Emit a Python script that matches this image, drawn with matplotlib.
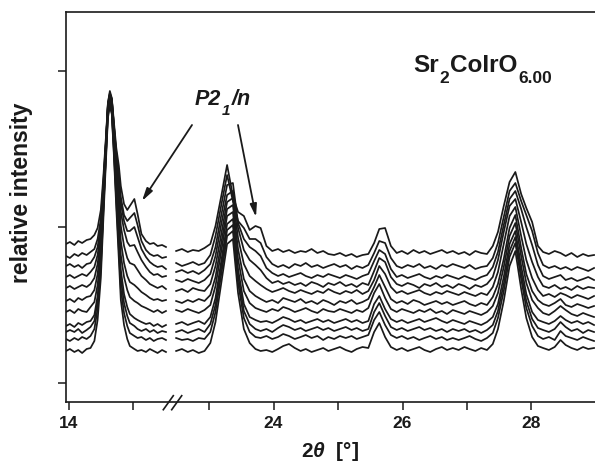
import numpy as np
import matplotlib
matplotlib.use("Agg")
import matplotlib.pyplot as plt

plt.rcParams['font.family'] = ['Liberation Sans', 'DejaVu Sans']
plt.rcParams['mathtext.fontset'] = 'custom'
plt.rcParams['mathtext.rm'] = 'Liberation Sans:bold'
plt.rcParams['mathtext.bf'] = 'Liberation Sans:bold'
plt.rcParams['mathtext.it'] = 'Liberation Sans:italic:bold'
plt.rcParams['mathtext.sf'] = 'Liberation Sans:bold'

# ---------------- data ----------------
two_theta_low = [13.96, 14.02, 14.09, 14.15, 14.21, 14.28, 14.34, 14.40, 14.45, 14.50,
                 14.54, 14.58, 14.61, 14.64, 14.67, 14.70, 14.74, 14.78, 14.81, 14.86,
                 14.91, 14.95, 15.02, 15.07, 15.13, 15.20, 15.26, 15.32, 15.38, 15.45, 15.51]

two_theta_high = [22.49, 22.58, 22.67, 22.75, 22.84, 22.93, 23.02, 23.10, 23.19, 23.28,
                  23.37, 23.45, 23.54, 23.63, 23.72, 23.80, 23.89, 23.98, 24.07, 24.15,
                  24.24, 24.33, 24.42, 24.50, 24.59, 24.68, 24.77, 24.85, 24.94, 25.03,
                  25.12, 25.21, 25.29, 25.38, 25.47, 25.56, 25.64, 25.73, 25.82, 25.91,
                  25.99, 26.08, 26.17, 26.26, 26.34, 26.43, 26.52, 26.61, 26.69, 26.78,
                  26.87, 26.96, 27.04, 27.13, 27.22, 27.31, 27.40, 27.48, 27.57, 27.66,
                  27.75, 27.84, 27.92, 28.01, 28.10, 28.18, 28.27, 28.36, 28.45, 28.53,
                  28.62, 28.71, 28.80, 28.88, 28.97]

offsets = [135, 122, 112, 103, 93, 82, 72, 59, 52, 44, 33]

low_0 = [4, 6, 3, 7, 5, 8, 9, 13, 20, 38, 72, 112, 145, 157, 150, 128, 100, 82, 62, 44, 38, 42, 49, 34, 14, 7, 4, 5, 2, 3, 1]
low_1 = [5, 3, 7, 5, 8, 6, 9, 12, 22, 42, 80, 122, 158, 168, 162, 138, 108, 86, 64, 46, 40, 43, 48, 36, 20, 11, 7, 5, 6, 3, 4]
low_2 = [5, 7, 4, 6, 3, 7, 8, 14, 24, 46, 86, 130, 166, 177, 172, 148, 116, 90, 68, 50, 40, 40, 44, 34, 22, 14, 9, 6, 4, 5, 2]
low_3 = [3, 5, 2, 4, 6, 4, 8, 13, 25, 50, 92, 138, 175, 185, 180, 156, 122, 92, 68, 50, 38, 34, 35, 28, 20, 13, 8, 5, 6, 3, 4]
low_4 = [2, 4, 1, 3, 5, 3, 6, 12, 26, 54, 98, 148, 184, 194, 188, 162, 126, 92, 64, 44, 32, 27, 25, 20, 14, 10, 6, 4, 2, 4, 1]
low_5 = [0, 2, -1, 3, 1, 4, 5, 11, 27, 58, 106, 156, 193, 204, 196, 168, 128, 90, 60, 38, 25, 19, 16, 13, 9, 6, 3, 1, 2, 0, 1]
low_6 = [-1, 1, -2, 2, 0, -1, 4, 9, 26, 60, 112, 165, 202, 212, 204, 174, 130, 88, 56, 34, 21, 14, 10, 8, 5, 3, 1, -1, 1, -2, 0]
low_7 = [-2, 0, -3, 1, -1, 2, 3, 9, 28, 64, 118, 172, 212, 222, 214, 182, 134, 88, 54, 30, 17, 10, 6, 4, 2, 0, 1, -2, 0, -3, -1]
low_8 = [-1, 1, -1, 2, -2, 1, 4, 10, 30, 68, 124, 178, 218, 228, 220, 186, 136, 88, 52, 28, 15, 8, 5, 2, 0, 2, -1, 1, -2, 0, -1]
low_9 = [0, -2, 1, -1, 2, 0, 3, 10, 30, 70, 128, 184, 224, 234, 226, 190, 138, 88, 50, 26, 13, 6, 3, 1, 2, -1, 1, -2, 0, 1, -1]
low_10 = [-1, 1, -2, 0, -3, 1, 2, 9, 30, 72, 132, 190, 232, 244, 236, 198, 142, 90, 50, 25, 11, 4, 1, -1, 0, -2, 1, -1, -3, 0, -2]

high_0 = [-3, -1, -4, -2, -3, 0, 4, 22, 52, 83,
          52, 36, 32, 18, 22, 20, 2, -3, -1, -4,
          -2, -5, -3, -4, -1, -5, -3, -6, -7, -5,
          -8, -6, -9, -7, -6, 5, 19, 20, 2, -5,
          -3, -6, -2, -5, -3, -6, -4, -2, -5, -3,
          -6, -4, -7, -3, -5, -6, 2, 16, 42, 66,
          76, 54, 40, 26, 2, -4, -6, -3, -5, -8,
          -5, -9, -6, -8, -7]
high_1 = [-2, -5, -3, -1, -4, -2, 6, 25, 56, 86,
          60, 40, 33, 22, 22, 18, 4, -3, -6, -4,
          -7, -3, -5, -2, -6, -4, -7, -5, -3, -6,
          -4, -8, -5, -7, -4, 8, 20, 18, 3, -5,
          -7, -4, -6, -3, -7, -5, -8, -4, -6, -3,
          -5, -7, -4, -8, -6, -5, 3, 18, 44, 70,
          78, 60, 46, 30, 8, -4, -7, -5, -8, -6,
          -9, -6, -8, -10, -7]
high_2 = [-1, 1, -2, 0, -3, 1, 7, 24, 56, 86,
          88, 48, 32, 24, 20, 15, 3, -2, -5, -3,
          -6, -4, -2, -5, -7, -4, -6, -3, -5, -7,
          -4, -6, -8, -5, -3, 10, 21, 17, 2, -6,
          -4, -7, -5, -3, -6, -8, -5, -7, -4, -6,
          -8, -5, -7, -9, -6, -4, 4, 19, 46, 72,
          80, 62, 44, 26, 6, -5, -8, -6, -4, -9,
          -7, -10, -8, -6, -9]
high_3 = [0, -2, 1, -1, -3, 0, 6, 24, 56, 85,
          89, 52, 30, 20, 15, 10, 2, -3, -1, -4,
          -2, -5, -3, -6, -2, -4, -7, -3, -5, -2,
          -6, -4, -7, -3, -5, 9, 22, 18, 3, -4,
          -6, -3, -5, -8, -4, -6, -3, -7, -5, -8,
          -4, -6, -9, -5, -7, -4, 3, 20, 48, 74,
          81, 58, 36, 18, 3, -6, -8, -5, -9, -7,
          -10, -6, -9, -7, -8]
high_4 = [-1, 1, -2, 2, 0, -1, 6, 24, 56, 88,
          92, 52, 26, 14, 9, 5, 1, -2, 0, 2,
          -1, -3, 0, -2, -4, -1, -3, 1, -2, -4,
          -1, -3, 0, -4, -1, 10, 24, 16, 3, -3,
          -1, -4, -2, 0, -3, -5, -2, -4, -1, -3,
          -5, -2, -4, -6, -3, -5, 3, 18, 46, 74,
          83, 54, 30, 12, 0, -6, -4, -7, -3, -5,
          -8, -5, -7, -9, -6]
high_5 = [0, -2, 1, -1, 2, 0, 6, 24, 58, 92,
          96, 52, 22, 10, 5, 2, -1, 1, -2, 3,
          1, -1, 2, -2, 0, -3, 1, -1, -4, 0,
          -2, 1, -3, -1, 2, 14, 26, 14, 2, -2,
          0, -3, 1, -1, -4, -2, 0, -3, -1, -4,
          -2, 0, -3, -5, -2, -4, 4, 17, 42, 73,
          86, 53, 27, 10, 1, -3, -5, -2, 2, -4,
          -6, -3, -5, -7, -5]
high_6 = [1, -1, 2, 0, -2, 1, 6, 25, 60, 95,
          99, 52, 20, 8, 3, 1, -1, 2, 0, 4,
          2, -1, 1, 3, 0, -2, 2, 0, -1, 2,
          0, -2, 1, -1, 3, 18, 27, 13, 2, -1,
          2, 0, -2, 1, -1, 2, -2, 0, -3, 1,
          -1, -3, 0, -2, -4, -1, 5, 18, 44, 75,
          88, 55, 28, 11, 3, -2, -4, 0, 5, 1,
          -3, -5, -2, -4, -6]
high_7 = [0, 2, -1, 1, 3, 0, 7, 26, 63, 100,
          105, 55, 20, 7, 4, 2, 3, 1, 4, 7,
          5, 2, 4, 1, 3, 5, 2, 4, 1, 3,
          5, 2, 4, 1, 3, 20, 28, 15, 5, 2,
          4, 1, 3, 5, 2, 4, 6, 3, 1, 4,
          2, 0, 3, 1, -1, 2, 7, 20, 47, 80,
          93, 58, 30, 12, 4, 2, 0, 3, 8, 4,
          1, 3, 0, 2, -1]
high_8 = [-1, 1, -2, 0, 2, -1, 7, 26, 64, 101,
          106, 55, 20, 7, 2, 0, 2, -1, 3, 6,
          4, 1, 3, 0, 2, 4, 1, 3, 0, 2,
          4, 1, 3, 0, 2, 19, 28, 15, 4, 1,
          3, 0, 2, 4, 1, 3, 0, 2, -1, 2,
          0, 2, -1, 1, -2, 1, 6, 20, 47, 80,
          94, 58, 30, 12, 3, 1, -1, 2, 9, 4,
          0, 2, -2, 1, -1]
high_9 = [1, -1, 0, -2, 1, 0, 7, 27, 65, 103,
          108, 56, 21, 7, 2, 1, 3, 0, 2, 5,
          3, 0, 2, 4, 1, 3, -1, 2, 0, 3,
          1, 3, 0, 2, 4, 19, 27, 14, 4, 1,
          3, 0, 2, -1, 1, 3, 0, 2, -1, 1,
          -1, 1, 3, 0, -2, 1, 6, 21, 48, 82,
          96, 60, 31, 13, 3, 0, 2, -1, 8, 3,
          1, -1, 2, 0, -2]
high_10 = [-1, 1, -2, 0, -3, -1, 7, 28, 67, 106,
           111, 57, 21, 7, 1, -1, 0, -2, 1, 4,
           6, 2, -1, 1, -2, 0, 2, -1, 1, 3,
           0, -2, 1, 3, 2, 18, 27, 13, 3, 0,
           2, -1, 1, 3, 0, -2, 1, 3, 0, 2,
           0, 3, 1, -1, 2, 0, 6, 21, 49, 84,
           99, 61, 32, 13, 4, 2, 0, 3, 10, 5,
           2, 0, 3, 1, 2]

low_segment = [low_0, low_1, low_2, low_3, low_4, low_5, low_6, low_7, low_8, low_9, low_10]
high_segment = [high_0, high_1, high_2, high_3, high_4, high_5, high_6, high_7, high_8, high_9, high_10]

x_major = [14, 24, 26, 28]
x_major_labels = ['14', '24', '26', '28']
x_minor = [15, 23, 25, 27]
y_ticks = [0, 156, 312]

# ---------------- broken axis scale ----------------
_bx = [0.0, 15.53, 22.49, 40.0]
_bu = [0.0, 15.53, 15.668, 33.178]


def _fwd(x):
    return np.interp(x, _bx, _bu)


def _inv(u):
    return np.interp(u, _bu, _bx)


W, H = 595, 464
fig = plt.figure(figsize=(W / 100, H / 100), dpi=100)
ax = fig.add_axes([66 / W, 61 / H, 529 / W, 390 / H])
ax.set_xscale('function', functions=(_fwd, _inv))

ink = '#1a1a1a'
for off, lo, hi in zip(offsets, low_segment, high_segment):
    ax.plot(two_theta_low, off + np.asarray(lo), color=ink, lw=1.25, solid_joinstyle='round')
    ax.plot(two_theta_high, off + np.asarray(hi), color=ink, lw=1.25, solid_joinstyle='round')

ax.set_xlim(13.96, 28.985)
ax.set_ylim(-19, 371)

ax.set_xticks(x_major)
ax.set_xticklabels(x_major_labels)
ax.set_xticks(x_minor, minor=True)
ax.set_yticks(y_ticks)
ax.set_yticklabels([])

ax.tick_params(axis='both', which='both', direction='out', length=5.5, width=1.1, colors=ink)
ax.tick_params(axis='x', which='major', labelsize=12.5, pad=4)
for lab in ax.get_xticklabels():
    lab.set_fontweight('bold')

for s in ['left', 'bottom', 'top']:
    ax.spines[s].set_linewidth(1.2)
    ax.spines[s].set_color(ink)
ax.spines['right'].set_visible(False)


def _fx(px):
    return (px - 66) / 529


def _fy(py):
    return (403 - py) / 390


# axis break marks
for x0 in (163.3, 171.7):
    ax.plot([_fx(x0), _fx(x0 + 10)], [_fy(410.7), _fy(396.7)], transform=ax.transAxes,
            color=ink, lw=1.2, clip_on=False)

ax.set_ylabel('relative intensity', fontsize=16.5, fontweight='bold', color=ink)
ax.yaxis.set_label_coords(_fx(33), _fy(193))
ax.set_xlabel(r'2$\mathit{\theta}$  [°]', fontsize=15, fontweight='bold', color=ink)
ax.xaxis.set_label_coords(0.5, _fy(440))
ax.xaxis.label.set_va('top')


def chain(pieces, x_px, base_px, it=False):
    prev = None
    for txt, size, drop in pieces:
        kw = dict(fontsize=size, fontweight='bold', color=ink, va='baseline', ha='left',
                  fontstyle='italic' if it else 'normal', annotation_clip=False)
        if prev is None:
            prev = ax.annotate(txt, xy=(_fx(x_px), _fy(base_px + drop)),
                               xycoords='axes fraction', **kw)
        else:
            prev = ax.annotate(txt, xy=(1, _fy(base_px + drop)),
                               xycoords=(prev, ax.transAxes),
                               xytext=(0.6, 0), textcoords='offset points', **kw)
    return prev


chain([('Sr', 17.5, 0), ('2', 12.5, 11), ('CoIrO', 17.5, 0), ('6.00', 12.5, 11)], 413, 72)
chain([('P2', 15.5, 0), ('1', 11, 10), ('/n', 15.5, 0)], 195, 105, it=True)

arrow_kw = dict(arrowstyle='-|>,head_length=0.75,head_width=0.2', color=ink, lw=1.3,
                shrinkA=0, shrinkB=0)
ax.annotate('', xy=(_fx(142), _fy(202)), xytext=(_fx(192), _fy(126)),
            xycoords='axes fraction', textcoords='axes fraction', arrowprops=arrow_kw)
ax.annotate('', xy=(_fx(256), _fy(218)), xytext=(_fx(238), _fy(126)),
            xycoords='axes fraction', textcoords='axes fraction', arrowprops=arrow_kw)

fig.savefig('out.png', dpi=100)
